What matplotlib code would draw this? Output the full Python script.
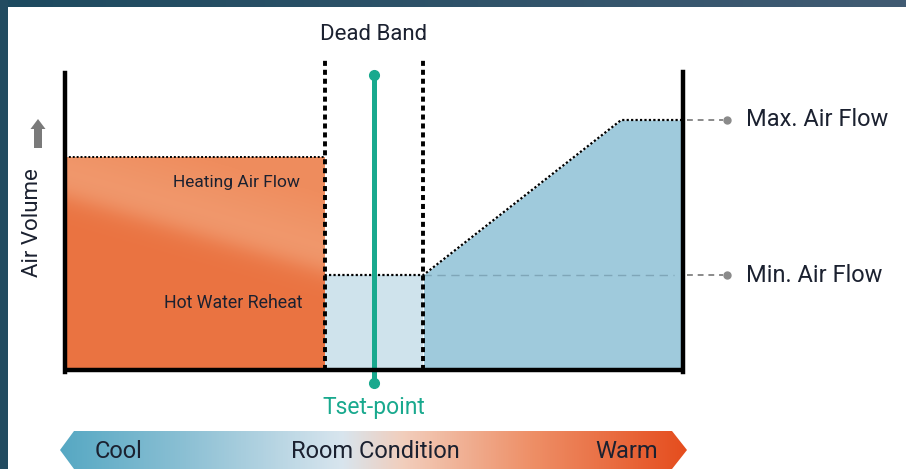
import matplotlib
matplotlib.use('Agg')
import matplotlib.pyplot as plt
import numpy as np
from matplotlib.colors import LinearSegmentedColormap, to_rgb
from matplotlib.patches import Polygon, Rectangle, FancyArrow

plt.rcParams['font.family'] = ['Liberation Sans Narrow', 'Roboto', 'DejaVu Sans']

# 数据: 横轴为房间状态 (0-100), 纵轴为风量 (% of max)
dead_band = [42, 58]
set_point = 50
heat_x = [0, 42]
heating_flow = 85
reheat_split = [70, 40]          # 热水再热与加热风量的分界
min_flow = 38
max_flow = 100
cool_x = [58, 90, 100]
cool_y = [38, 100, 100]

label_max = "Max. Air Flow"
label_min = "Min. Air Flow"
bar_labels = ["Cool", "Room Condition", "Warm"]

text_c = '#1b2130'
teal = '#19a98e'

fig = plt.figure(figsize=(9.06, 4.69), dpi=100)

# 背景层 (像素坐标)
bg = fig.add_axes([0, 0, 1, 1])
bg.set_xlim(0, 906)
bg.set_ylim(469, 0)
bg.axis('off')
top_grad = np.linspace(0, 1, 256).reshape(1, -1)
top_cmap = LinearSegmentedColormap.from_list('top', ['#1d4a5f', '#415b73'])
bg.imshow(top_grad, cmap=top_cmap, extent=(0, 906, 7, 0), aspect='auto')
bg.add_patch(Rectangle((0, 0), 8, 469, color='#224b60', lw=0))

# 底部渐变箭头
arrow_pts = [(60, 450), (74, 431), (672, 431), (687, 450), (672, 469), (74, 469)]
arrow = Polygon(arrow_pts, closed=True, facecolor='none', edgecolor='none')
bg.add_patch(arrow)
bar_cmap = LinearSegmentedColormap.from_list(
    'bar', [(0, '#56a8c3'), (0.2, '#8cc0d4'), (0.45, '#d8e5ee'), (0.55, '#f2cdbb'),
            (0.75, '#ee9068'), (1, '#e54d1e')])
grad = np.linspace(0, 1, 512).reshape(1, -1)
im = bg.imshow(grad, cmap=bar_cmap, extent=(60, 687, 469, 431), aspect='auto')
im.set_clip_path(arrow)
bg.set_xlim(0, 906)
bg.set_ylim(469, 0)
for lbl, xp in zip(bar_labels, [118, 375, 627]):
    bg.text(xp, 452, lbl, ha='center', va='center', fontsize=17, color=text_c)

# 纵轴箭头 (灰色)
bg.add_patch(FancyArrow(38, 148, 0, -29, width=8, head_width=15, head_length=10,
                        length_includes_head=True, color='#7a7a7a', lw=0))

# 主图
ax = fig.add_axes([65 / 906, 99 / 469, 618 / 906, 300 / 469])
ax.set_xlim(0, 100)
ax.set_ylim(0, 120)
ax.axis('off')
ax.patch.set_alpha(0)

# 加热区 (橙色渐变)
nx, ny = 300, 260
gx = np.linspace(heat_x[0], heat_x[1], nx)
gy = np.linspace(0, heating_flow, ny)
GX, GY = np.meshgrid(gx, gy)
split = np.interp(GX, heat_x, reheat_split)
t = 1 / (1 + np.exp(-(GY - split) / 3.0))
dark = np.array(to_rgb('#ea7341'))
light = np.array(to_rgb('#f19e74'))
top_c = np.array(to_rgb('#ef8d5e'))
fade = np.clip((GY - split) / 30.0, 0, 1)[..., None]
upper = light * (1 - fade) + top_c * fade
img = dark * (1 - t[..., None]) + upper * t[..., None]
ax.imshow(img, origin='lower', extent=(heat_x[0], heat_x[1], 0, heating_flow),
          aspect='auto', zorder=1)
ax.plot(heat_x, [heating_flow] * 2, color='black', lw=1.4, ls=(0, (1, 1)), zorder=4)

# 死区 (浅蓝)
ax.fill_between(dead_band, 0, min_flow, color='#cfe3ec', lw=0, zorder=1)
# 制冷区 (蓝)
ax.fill_between(cool_x, 0, cool_y, color='#9fcadc', lw=0, zorder=1)
ax.plot(dead_band + cool_x, [min_flow, min_flow] + cool_y, color='black', lw=1.6,
        ls=(0, (1, 1)), zorder=4)
ax.plot([dead_band[1], 98.5], [min_flow] * 2, color='#7fa6b8', lw=1.0,
        dashes=(6, 4), zorder=2)

# 死区边界
for xd in dead_band:
    ax.plot([xd, xd], [0, 125], color='black', lw=2.8, dashes=(1.3, 1.0),
            clip_on=False, zorder=5)
ax.text(np.mean(dead_band), 134, "Dead Band", ha='center', va='center',
        fontsize=16, color=text_c)

# 设定点
ax.plot([set_point, set_point], [-5.2, 118], color=teal, lw=3.6, marker='o',
        ms=7, clip_on=False, zorder=6, solid_capstyle='round')
ax.text(set_point, -15, "Tset-point", ha='center', va='center', fontsize=16.5,
        color=teal)

# 坐标轴粗线
ax.plot([0, 0], [-0.8, 118.8], color='black', lw=3.2, clip_on=False, zorder=7)
ax.plot([100, 100], [-0.8, 119.2], color='black', lw=3.2, clip_on=False, zorder=7)
ax.plot([-0.3, 100.3], [0, 0], color='black', lw=3.2, clip_on=False, zorder=7,
        solid_capstyle='butt')

# 最大/最小风量标注
for yv, lbl in [(max_flow, label_max), (min_flow, label_min)]:
    ax.plot([100.6, 106.5], [yv, yv], color='#8a8a8a', lw=1.4, dashes=(3, 2.5),
            clip_on=False, zorder=3)
    ax.plot([107.2], [yv], 'o', color='#8a8a8a', ms=5, clip_on=False, zorder=3)
    ax.text(110.2, yv, lbl, ha='left', va='center', fontsize=17, color=text_c)

ax.text(27.8, 75, "Heating Air Flow", ha='center', va='center',
        fontsize=12.5, color=text_c)
ax.text(27.2, 27, "Hot Water Reheat", ha='center', va='center',
        fontsize=12.8, color=text_c)

# 纵轴标签
ax.text(-5.3, 59, "Air Volume", rotation=90, ha='center', va='center',
        fontsize=16, color=text_c)

fig.savefig('out.png', dpi=100)
